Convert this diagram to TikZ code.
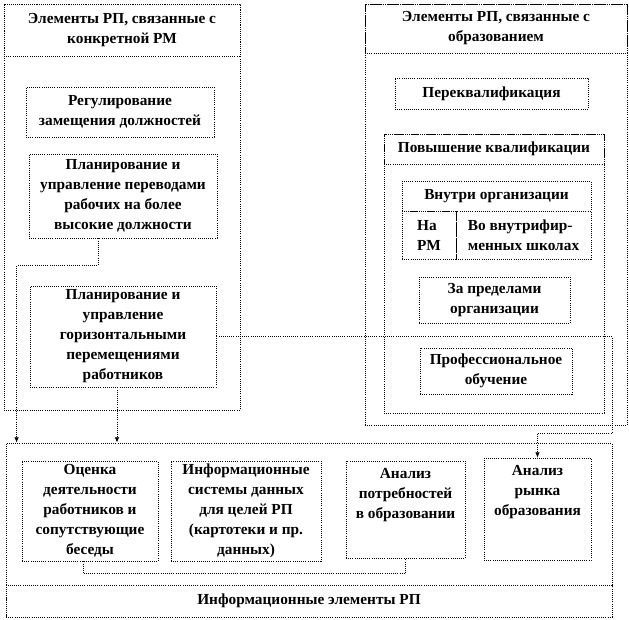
\documentclass[tikz,border=0pt]{standalone}
\usepackage{fontspec}
\setmainfont{Liberation Serif}
\usetikzlibrary{arrows.meta}
\tikzset{
  box/.style={draw, densely dotted, line width=0.6pt, inner sep=1pt, align=center, font=\fontsize{11.5}{15}\selectfont\bfseries},
  frame/.style={draw, densely dotted, line width=0.6pt, inner sep=0pt},
  txt/.style={inner sep=1pt, align=center, font=\fontsize{11.5}{15}\selectfont\bfseries},
  wh/.style 2 args={minimum width=#1*0.75pt, minimum height=#2*0.75pt},
  conn/.style={densely dotted, line width=0.6pt},
  tip/.style={-{Latex[length=4pt,width=3.5pt]}}
}
\begin{document}
\begin{tikzpicture}[x=0.75pt,y=-0.75pt]
                          \useasboundingbox (0,0) rectangle (629,619);
                          \node[frame, wh={236}{406}] (rmall) at (122,207) {};
                          \node[box, wh={236}{52}] (rmhead) at (122,30) {Элементы РП, связанные с\\конкретной РМ};
                          \node[box, wh={188}{50}] (zamesh) at (120,112) {Регулирование\\замещения должностей};
                          \node[box, wh={188}{84}] (perev) at (123,196) {Планирование и\\управление переводами\\рабочих на более\\высокие должности};
                          \node[box, wh={186}{101}] (gorizont) at (123,336.5) {Планирование и\\управление\\горизонтальными\\перемещениями\\работников};
                          \node[frame, wh={262}{421}] (obrall) at (496,214.5) {};
                          \node[box, wh={262}{49}] (obrhead) at (496,28.5) {Элементы РП, связанные с\\образованием};
                          \node[box, wh={193}{31}] (perekv) at (491.5,93.5) {Переквалификация};
                          \node[frame, wh={220}{279}] (povall) at (494,273.5) {};
                          \node[box, wh={220}{30}] (povhead) at (494,149) {Повышение квалификации};
                          \node[box, wh={189}{30}] (vnutri) at (496.5,196) {Внутри организации};
                          \node[box, wh={54}{48}, align=left] (narm) at (429,235) {На\\РМ};
                          \node[box, wh={135}{48}, align=left] (shkoly) at (523.5,235) {Во внутрифир-\\менных школах};
                          \node[box, wh={151}{46}] (zapred) at (494.5,300) {За пределами\\организации};
                          \node[box, wh={152}{46}] (profob) at (496,371) {Профессиональное\\обучение};
                          \node[frame, wh={606}{174}] (infall) at (309,530) {};
                          \node[box, wh={606}{32}] (infhead) at (309,601) {Информационные элементы РП};
                          \node[box, wh={136}{100}] (ocenka) at (90,511) {Оценка\\деятельности\\работников и\\сопутствующие\\беседы};
                          \node[box, wh={150}{100}] (infsys) at (246,511) {Информационные\\системы данных\\для целей РП\\(картотеки и пр.\\данных)};
                          \node[frame, wh={119}{97}] (potr) at (405.5,509.5) {};
                          \node[txt, anchor=north] (potrtxt) at ([yshift=-5pt]potr.north) {Анализ\\потребностей\\в образовании};
                          \node[frame, wh={107}{102}] (rynok) at (537.5,509) {};
                          \node[txt, anchor=north] (rynoktxt) at ([yshift=-5pt]rynok.north) {Анализ\\рынка\\образования};
                          \coordinate (bendR) at (612,433);
                          \draw[conn, tip] ([xshift=-18.75pt]perev.south) -- ++(0,27) -| ([xshift=8.25pt]infall.north west);
                          \draw[conn, tip] ([xshift=-4.5pt]gorizont.south) -- ([xshift=-4.5pt]gorizont.south |- infall.north);
                          \draw[conn, tip] (gorizont.east) -| (bendR) -| (rynok.north);
                          \draw[conn] ([xshift=-5.25pt]ocenka.south) -- ++(0,12) -| (potr.south);
                      \end{tikzpicture}
\end{document}
